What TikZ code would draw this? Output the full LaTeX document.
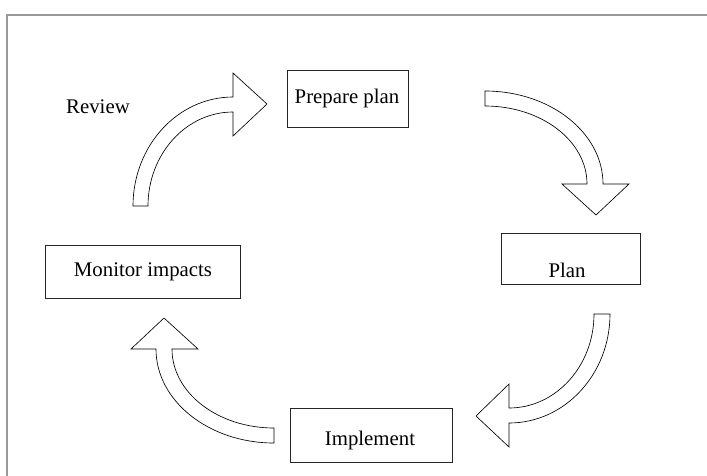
\documentclass[tikz,border=0pt]{standalone}
\usepackage{fontspec}
\setmainfont{Liberation Serif}
\begin{document}
\begin{tikzpicture}[x=1pt,y=-1pt,
  stagebox/.style={draw=black!85, line width=0.9pt, inner sep=0pt},
  stagetext/.style={font=\fontsize{20.8}{25}\selectfont, inner sep=0pt},
  bentarrow/.style={draw=black, line width=0.65pt, fill=white, line join=miter}]
\useasboundingbox (0,0) rectangle (707,475);
% outer frame (only top and left edges fall inside the page)
\draw[gray!80, line width=1.1pt] (7,480) -- (7,15) -- (712,15);

% stage boxes
\node[stagebox, minimum width=121pt, minimum height=57pt] (prep) at (347.5,98.5) {};
\node[stagebox, minimum width=139pt, minimum height=51pt] (plan) at (570.5,258.5) {};
\node[stagebox, minimum width=195pt, minimum height=53pt] (monitor) at (142.5,271.5) {};
\node[stagebox, minimum width=162pt, minimum height=54pt] (impl) at (371,435) {};

\node[stagetext] (prepT) at (347,98.5) {Prepare plan};
\node[stagetext] (planT) at (567,270) {Plan};
\node[stagetext] (monitorT) at (143,272) {Monitor impacts};
\node[stagetext] (implT) at (370,440) {Implement};
\node[stagetext] (review) at (98,107) {Review};

% curved block arrows
% Review: Monitor impacts -> Prepare plan
\draw[bentarrow] (133,206) arc[start angle=180, end angle=270, x radius=100, y radius=109]
  -- (233,73) -- (267,104) -- (233,136) -- (233,112)
  arc[start angle=270, end angle=180, x radius=85, y radius=94] -- cycle;
% Prepare plan -> Plan
\draw[bentarrow] (485,91) arc[start angle=270, end angle=360, x radius=118, y radius=93]
  -- (629,184) -- (596,215) -- (562,184) -- (587,184)
  arc[start angle=360, end angle=270, x radius=102, y radius=78] -- cycle;
% Plan -> Implement
\draw[bentarrow] (610,314) arc[start angle=0, end angle=90, x radius=101, y radius=109]
  -- (509,447) -- (476,416) -- (509,384) -- (509,408)
  arc[start angle=90, end angle=0, x radius=85, y radius=94] -- cycle;
% Implement -> Monitor impacts
\draw[bentarrow] (156,349) arc[start angle=180, end angle=90, x radius=118, y radius=94]
  -- (274,428)
  arc[start angle=90, end angle=180, x radius=102, y radius=79]
  -- (198,349) -- (164,318) -- (131,349) -- cycle;
\end{tikzpicture}
\end{document}
